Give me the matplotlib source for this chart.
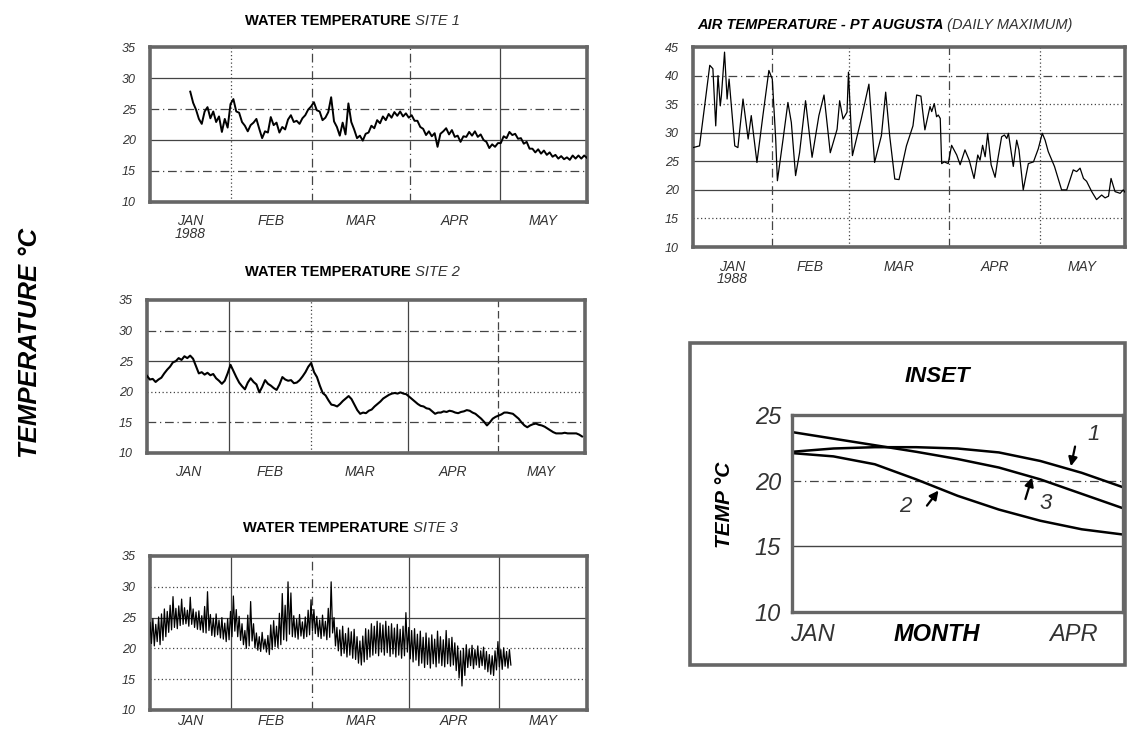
import numpy as np
import matplotlib.pyplot as plt
from matplotlib.patches import Rectangle

plt.rcParams['font.family'] = ['Liberation Sans', 'DejaVu Sans']

# Water temperature site 1, daily values from day 14 (mid Jan 1988) #
site1_start = 14
site1_temp = [27.8, 26.0, 24.9, 23.4, 22.6, 24.6, 25.3, 23.5, 24.6, 22.9,
              23.8, 21.3, 23.4, 22.0, 25.8, 26.6, 24.6, 24.4, 22.9, 22.3,
              21.4, 22.4, 22.8, 23.4, 21.8, 20.3, 21.4, 21.2, 23.7, 22.4,
              22.8, 21.2, 22.1, 21.7, 23.3, 24.0, 22.9, 23.1, 22.6, 23.5,
              24.0, 24.9, 25.4, 26.1, 24.8, 24.6, 23.2, 23.6, 24.5, 26.9,
              23.0, 22.1, 20.7, 22.8, 20.9, 25.9, 22.9, 21.7, 20.3, 20.7,
              19.9, 21.0, 21.2, 22.3, 21.9, 23.2, 22.7, 23.8, 23.2, 24.2,
              23.6, 24.5, 23.9, 24.6, 23.8, 24.3, 23.6, 24.0, 23.1, 23.1,
              22.1, 21.8, 20.8, 21.4, 20.6, 21.1, 18.9, 21.0, 21.4, 21.9,
              20.9, 21.6, 20.5, 20.7, 19.7, 20.6, 20.5, 21.3, 20.7, 21.4,
              20.5, 20.9, 20.0, 19.7, 18.7, 19.3, 18.9, 19.5, 19.5, 20.6,
              20.3, 21.3, 20.8, 21.0, 20.2, 20.3, 19.4, 19.7, 18.6, 18.6,
              18.0, 18.5, 17.8, 18.3, 17.6, 18.0, 17.3, 17.6, 17.0, 17.4,
              16.9, 17.2, 16.8, 17.5, 17.0, 17.5, 17.0, 17.5, 17.1]

# Water temperature site 2, daily values from 1 Jan #
site2_start = 0
site2_temp = [22.6, 22.0, 22.1, 21.6, 22.0, 22.3, 23.0, 23.6, 24.1, 24.8,
              25.0, 25.5, 25.2, 25.8, 25.5, 25.9, 25.4, 24.2, 23.0, 23.2,
              22.8, 23.1, 22.7, 22.9, 22.2, 21.8, 21.3, 21.8, 23.0, 24.4,
              23.4, 22.4, 21.5, 20.9, 20.4, 21.5, 22.2, 21.6, 21.2, 19.9,
              20.8, 21.9, 21.3, 21.0, 20.6, 20.3, 21.2, 22.4, 22.0, 21.8,
              21.9, 21.4, 21.5, 21.9, 22.5, 23.2, 24.1, 24.7, 23.2, 22.4,
              21.0, 19.8, 19.4, 18.6, 17.9, 17.8, 17.6, 18.0, 18.5, 18.9,
              19.3, 18.8, 17.9, 17.0, 16.4, 16.6, 16.5, 16.9, 17.1, 17.6,
              18.0, 18.4, 18.9, 19.2, 19.5, 19.7, 19.8, 19.7, 19.9, 19.7,
              19.6, 19.2, 18.8, 18.4, 18.0, 17.7, 17.6, 17.3, 17.2, 16.8,
              16.4, 16.6, 16.6, 16.8, 16.7, 16.9, 16.8, 16.6, 16.5, 16.7,
              16.8, 17.0, 16.9, 16.6, 16.4, 16.0, 15.6, 15.1, 14.5, 15.0,
              15.6, 15.9, 16.1, 16.3, 16.6, 16.6, 16.5, 16.4, 16.0, 15.6,
              15.0, 14.5, 14.2, 14.5, 14.7, 14.8, 14.6, 14.5, 14.3, 14.0,
              13.7, 13.4, 13.2, 13.2, 13.2, 13.3, 13.2, 13.2, 13.2, 13.2,
              13.0, 12.7]

# Water temperature site 3, daily high / low from 1 Jan #
site3_start = 0
site3_high = [24.2, 24.8, 23.9, 25.1, 25.6, 26.4, 26.0, 27.0, 28.4, 26.5,
              26.9, 28.0, 26.6, 26.2, 28.3, 26.4, 25.9, 26.1, 25.3, 26.8,
              29.2, 25.5, 24.9, 25.6, 24.6, 25.0, 24.1, 24.8, 26.0, 28.5,
              26.3, 25.2, 24.0, 22.9, 25.4, 27.6, 24.0, 22.5, 21.9, 22.6,
              21.5, 22.1, 23.8, 24.5, 23.6, 25.7, 28.9, 27.0, 30.8, 29.0,
              25.3, 24.7, 25.5, 24.3, 25.1, 26.2, 27.9, 26.3, 25.2, 24.6,
              25.4, 24.4, 26.5, 30.8, 25.0, 23.4, 23.0, 23.6, 22.4, 23.3,
              22.7, 23.1, 21.9, 21.2, 22.0, 23.2, 23.0, 24.0, 23.6, 24.4,
              24.1, 23.8, 24.4, 23.6, 24.0, 23.3, 23.9, 23.1, 23.6, 25.8,
              23.4, 22.9, 23.2, 22.3, 22.8, 21.8, 22.5, 21.7, 22.2, 21.5,
              22.8, 21.9, 21.4, 22.9, 21.6, 21.8, 20.9, 20.4, 19.6, 20.0,
              20.6, 19.9, 20.5, 19.8, 20.4, 19.6, 20.2, 19.5, 19.0, 18.8,
              19.6, 21.1, 19.8, 20.1, 19.5, 19.8]
site3_low = [20.8, 20.4, 21.1, 20.6, 21.3, 21.9, 22.6, 23.0, 23.4, 23.2,
             23.7, 23.9, 24.0, 23.6, 23.9, 23.4, 23.1, 23.0, 22.6, 22.5,
             22.9, 22.1, 21.9, 22.2, 21.7, 21.5, 21.1, 21.4, 21.9, 22.8,
             21.9, 21.3, 20.6, 20.0, 20.4, 21.2, 20.1, 19.7, 19.5, 19.9,
             19.4, 19.0, 19.8, 20.3, 20.1, 20.6, 21.4, 21.2, 22.3, 21.9,
             21.8, 21.5, 22.0, 21.6, 21.9, 22.2, 22.8, 22.4, 21.9, 21.6,
             22.0, 21.4, 21.8, 22.5, 20.4, 19.6, 18.8, 19.2, 18.6, 18.9,
             18.4, 18.2, 17.6, 17.3, 17.8, 18.2, 18.6, 18.9, 19.2, 18.8,
             19.4, 18.9, 19.3, 18.7, 19.1, 18.6, 18.9, 18.4, 18.8, 19.4,
             18.3, 17.8, 18.1, 17.2, 17.6, 16.9, 17.4, 16.8, 17.5, 17.0,
             17.6, 17.2, 17.0, 17.5, 17.1, 17.3, 16.4, 15.2, 13.9, 15.6,
             16.9, 17.2, 16.7, 17.3, 16.9, 17.2, 16.6, 16.2, 15.8, 15.6,
             16.5, 17.0, 16.6, 17.1, 16.8, 17.3]

# Air temperature Pt Augusta, daily maximum (day of year, deg C) #
air_day = [0, 2.3, 4.1, 5.9, 7.0, 8.0, 8.8, 9.6, 10.0, 11.1, 12.0, 12.7, 13.5,
           14.7, 15.8, 17.6, 19.4, 20.5, 22.5, 24.6, 26.7, 27.9, 29.1, 29.7,
           31.7, 33.4, 34.6, 36.1, 37.5, 39.6, 41.9, 44.3, 46.1, 48.3, 50.7,
           51.6, 52.8, 54.2, 54.7, 56.1, 57.5, 59.2, 61.9, 63.9, 66.3, 67.8,
           69.2, 71.0, 72.5, 75.1, 77.4, 78.7, 80.2, 81.6, 83.4, 84.0, 84.9,
           85.7, 86.3, 87.0, 87.5, 88.4, 89.8, 91.0, 92.8, 94.0, 95.7, 97.2,
           98.9, 100.2, 101.0, 101.9, 102.8, 103.7, 104.9, 106.3, 107.2,
           108.6, 109.6, 110.4, 111.0, 112.7, 113.9, 114.7, 116.2, 118.0,
           119.8, 121.5, 122.9, 123.9, 125.0, 127.2, 129.7, 131.5, 133.8,
           135.0, 136.2, 137.4, 138.5, 140.3, 142.0, 143.8, 145.0, 146.2,
           147.1, 148.5, 150.3, 151.4, 152.0]
air_temp = [27.4, 27.7, 34.7, 41.8, 41.2, 31.2, 40.0, 34.7, 36.5, 44.1, 35.9,
            39.4, 34.7, 27.7, 27.4, 35.9, 28.9, 33.0, 24.8, 33.0, 40.9, 39.4,
            28.9, 21.6, 28.9, 35.3, 31.8, 22.5, 26.5, 35.6, 25.7, 33.0, 36.6,
            26.5, 30.6, 35.6, 32.4, 33.6, 40.6, 26.0, 28.9, 32.4, 38.5, 24.8,
            29.5, 37.1, 29.5, 21.9, 21.8, 27.7, 31.2, 36.6, 36.4, 30.5, 34.6,
            33.7, 35.1, 32.8, 33.1, 32.5, 24.6, 24.9, 24.6, 27.8, 26.1, 24.4,
            27.0, 25.2, 22.0, 26.1, 25.2, 27.8, 25.8, 29.9, 24.4, 22.2, 25.2,
            29.3, 29.6, 29.0, 29.9, 24.1, 28.7, 27.0, 20.0, 24.6, 24.9, 27.2,
            29.9, 28.7, 26.7, 24.1, 20.0, 20.0, 23.5, 23.2, 23.8, 22.0, 21.5,
            19.7, 18.3, 19.1, 18.6, 18.9, 22.0, 19.7, 19.4, 20.0, 19.6]

# Inset: smoothed trends for the three sites (months from 1 Jan) #
inset_month = [0, 0.5, 1.0, 1.5, 2.0, 2.5, 3.0, 3.5, 4.0]
inset_site1 = [22.2, 22.45, 22.55, 22.55, 22.45, 22.15, 21.5, 20.6, 19.5]
inset_site2 = [22.1, 21.85, 21.25, 20.1, 18.85, 17.8, 16.95, 16.3, 15.9]
inset_site3 = [23.7, 23.2, 22.7, 22.2, 21.65, 21.0, 20.1, 19.0, 17.9]

months = ['JAN', 'FEB', 'MAR', 'APR', 'MAY']
water_edges = [28.2, 56.3, 90.3, 121.7]
air_edges = [27.8, 54.9, 90.1, 122.1]

SOLID = '-'
DOT = (0, (1, 2))
DASHDOT = (0, (7, 3, 1, 3))
DASH = (0, (6, 3))

fig = plt.figure(figsize=(11.27, 7.30), dpi=100)


def panel(rect, ylim, hlines, edges, vstyles, first_label, xpad=9):
    ax = fig.add_axes(rect)
    ax.set_xlim(0, 152)
    ax.set_ylim(*ylim)
    ticks = list(range(ylim[0], ylim[1] + 1, 5))
    ax.set_yticks(ticks)
    ax.set_yticklabels([str(t) for t in ticks], fontsize=9, style='italic', color='#333')
    for y, ls in hlines:
        ax.axhline(y, color='#444', lw=0.9, ls=ls, zorder=1)
    for x, ls in zip(edges, vstyles):
        ax.axvline(x, color='#444', lw=0.9, ls=ls, zorder=1)
    bounds = [0] + edges + [152]
    mids = [(bounds[i] + bounds[i + 1]) / 2 for i in range(5)]
    ax.set_xticks(mids)
    ax.set_xticklabels([first_label] + months[1:], fontsize=10, style='italic',
                       color='#333', linespacing=0.9)
    ax.xaxis.set_tick_params(length=0, pad=xpad)
    ax.yaxis.set_tick_params(length=0, pad=10)
    for s in ax.spines.values():
        s.set_color('#666')
        s.set_linewidth(2.6)
    return ax


def title(ax, x, y, bold, light, boldstyle='normal'):
    t = ax.text(x, y, bold, transform=ax.transAxes, fontsize=10.5, fontweight='bold',
                style=boldstyle, ha='left', va='center')
    ax.annotate(' ' + light, xy=(1, 0), xycoords=t, ha='left', va='bottom',
                fontsize=10.5, style='italic', color='#333')


# Site 1 #
ax1 = panel([0.1331, 0.7233, 0.3878, 0.2123], (10, 35),
            [(30, SOLID), (25, DASHDOT), (20, SOLID), (15, DASHDOT)],
            water_edges, [DOT, DASHDOT, DASHDOT, SOLID], 'JAN\n1988')
ax1.plot(site1_start + np.arange(len(site1_temp)), site1_temp, color='k', lw=1.4, zorder=3)
title(ax1, 0.217, 1.168, 'WATER TEMPERATURE', 'SITE 1')

# Site 2 #
ax2 = panel([0.1304, 0.3795, 0.3886, 0.2096], (10, 35),
            [(30, DASHDOT), (25, SOLID), (20, DOT), (15, DASHDOT)],
            [28.5, 56.9, 90.6, 121.8], [SOLID, DOT, SOLID, DASH], 'JAN')
ax2.plot(site2_start + np.arange(len(site2_temp)), site2_temp, color='k', lw=1.5, zorder=3)
title(ax2, 0.224, 1.183, 'WATER TEMPERATURE', 'SITE 2')

# Site 3 #
ax3 = panel([0.1331, 0.0274, 0.3878, 0.2110], (10, 35),
            [(30, DOT), (25, SOLID), (20, DOT), (15, DOT)],
            [28.2, 56.3, 90.1, 121.4], [SOLID, DASHDOT, SOLID, SOLID], 'JAN', xpad=3)
d3 = site3_start + np.arange(len(site3_high))
x3 = np.column_stack([d3, d3 + 0.5]).ravel()
y3 = np.column_stack([site3_high, site3_low]).ravel()
ax3.plot(x3, y3, color='k', lw=0.9, zorder=3)
title(ax3, 0.213, 1.182, 'WATER TEMPERATURE', 'SITE 3')

# Air temperature #
ax4 = panel([0.6149, 0.6616, 0.3833, 0.2740], (10, 45),
            [(40, DASHDOT), (35, DOT), (30, SOLID), (25, SOLID), (20, SOLID), (15, DOT)],
            air_edges, [DASHDOT, DOT, DASHDOT, DOT], 'JAN\n1988')
ax4.plot(air_day, air_temp, color='k', lw=0.9, zorder=3)
title(ax4, 0.009, 1.11, 'AIR TEMPERATURE - PT AUGUSTA', '(DAILY MAXIMUM)', 'italic')

# Inset #
fig.patches.append(Rectangle((0.6122, 0.0890), 0.3860, 0.4411, transform=fig.transFigure,
                             fill=False, edgecolor='#666', lw=2.6))
ax5 = fig.add_axes([0.7028, 0.1616, 0.2937, 0.2699])
ax5.set_xlim(0, 4)
ax5.set_ylim(10, 25)
ax5.set_yticks([10, 15, 20, 25])
ax5.set_yticklabels(['10', '15', '20', '25'], fontsize=17, style='italic', color='#333')
ax5.set_xticks([0.25, 1.75, 3.4])
ax5.set_xticklabels(['JAN', 'MONTH', 'APR'], fontsize=17, style='italic', color='#333')
ax5.get_xticklabels()[1].set_fontweight('bold')
ax5.get_xticklabels()[1].set_color('k')
ax5.tick_params(length=0, pad=8)
ax5.axhline(20, color='#444', lw=0.9, ls=DASHDOT, zorder=1)
ax5.axhline(15, color='#444', lw=1.0, ls=SOLID, zorder=1)
for s in ax5.spines.values():
    s.set_color('#666')
    s.set_linewidth(2.4)
ax5.plot(inset_month, inset_site1, color='k', lw=1.8)
ax5.plot(inset_month, inset_site2, color='k', lw=1.8)
ax5.plot(inset_month, inset_site3, color='k', lw=1.8)

# Curve labels with short pointer arrows #
arrow = dict(arrowstyle='-|>', color='k', lw=1.6, mutation_scale=13, shrinkA=0, shrinkB=0)
ax5.annotate('', xy=(3.37, 21.1), xytext=(3.42, 22.6), arrowprops=arrow)
ax5.annotate('', xy=(1.77, 19.25), xytext=(1.63, 18.1), arrowprops=arrow)
ax5.annotate('', xy=(2.90, 20.25), xytext=(2.82, 18.6), arrowprops=arrow)
ax5.text(3.64, 23.5, '1', fontsize=16, style='italic', ha='center', va='center', color='#333')
ax5.text(1.37, 18.0, '2', fontsize=16, style='italic', ha='center', va='center', color='#333')
ax5.text(3.06, 18.3, '3', fontsize=16, style='italic', ha='center', va='center', color='#333')

fig.text(0.8314, 0.4836, 'INSET', fontsize=16, fontweight='bold', style='italic',
         ha='center', va='center')
fig.text(0.6433, 0.3082, 'TEMP °C', fontsize=15, fontweight='bold', style='italic',
         rotation=90, ha='center', va='center')

# Overall axis label #
fig.text(0.0266, 0.530, 'TEMPERATURE °C', fontsize=18.5, fontweight='bold', style='italic',
         rotation=90, ha='center', va='center')

fig.savefig('out.png', dpi=100, facecolor='white')
